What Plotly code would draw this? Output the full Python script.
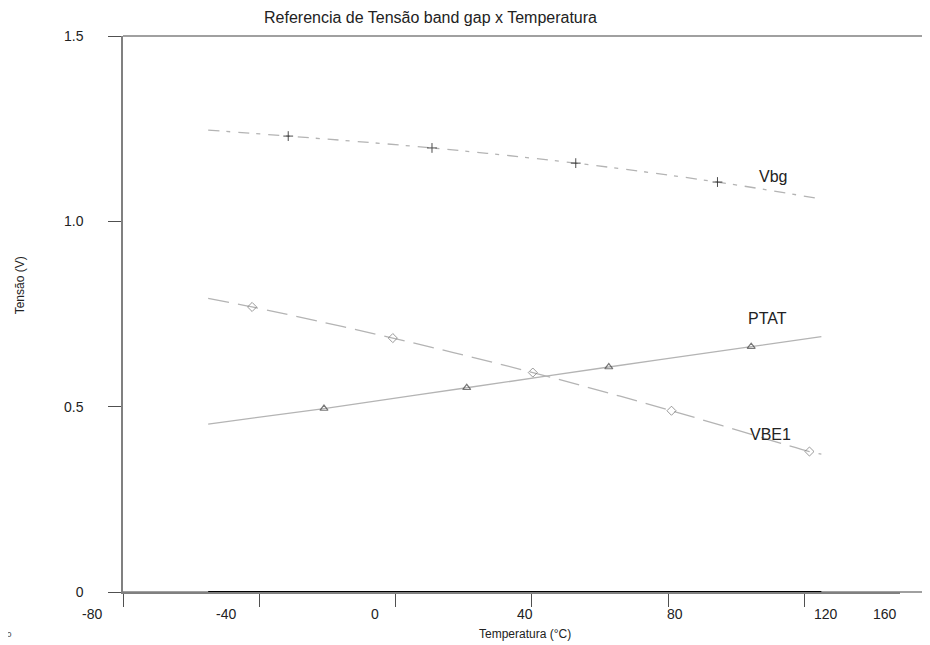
import plotly.graph_objects as go

# ---- data ----
vbg_temp = [-55, -31.5, 10.7, 52.9, 94.5, 125]
vbg_val = [1.246, 1.230, 1.198, 1.157, 1.106, 1.060]

ptat_temp = [-55, -21.0, 20.9, 62.6, 104.4, 125]
ptat_val = [0.453, 0.495, 0.551, 0.607, 0.662, 0.689]

vbe1_temp = [-55, -42.1, -0.8, 40.3, 81.0, 121.5, 125]
vbe1_val = [0.792, 0.769, 0.685, 0.592, 0.489, 0.379, 0.372]

base_temp = [-55, 125]
base_val = [0, 0]

x_tick_vals = [-80, -40, 0, 40, 80, 120, 160]
x_tick_text = ["-80", "-40", "0", "40", "80", "120", "160"]
y_tick_vals = [0, 0.5, 1.0, 1.5]
y_tick_text = ["0", "0.5", "1.0", "1.5"]

series_labels = ["Vbg", "PTAT", "VBE1"]
label_pos = [(110.8, 1.122), (109.1, 0.737), (110.0, 0.424)]

# page-pixel centres of the (offset) x tick labels in the reference
x_label_px = [92, 226, 375, 525, 675, 826, 885]

OFF = 8  # page body margin
W, H = 930 - OFF, 645 - OFF
ML, MT = 122.7 - OFF, 35.7 - OFF
MR = 30
MB = H - (592.3 - OFF)
PW = W - ML - MR
PH = H - MT - MB
Y0 = 592.3  # page y of the x axis

def px_x(px):
    return (px - OFF - ML) / PW

def px_y(py):
    return (Y0 - py) / PH

X_END = px_x(930)  # axis lines run to the right edge of the window

LINE = "#b4b4b4"
MARK = "#404040"
AXIS = "#808080"

def sizes(n, s):
    return [0] + [s] * (n - 2) + [0]

fig = go.Figure()

fig.add_trace(go.Scatter(
    x=base_temp, y=base_val, mode="lines",
    line=dict(color="#000000", width=2.2), showlegend=False, hoverinfo="skip"))

fig.add_trace(go.Scatter(
    x=vbg_temp, y=vbg_val, mode="lines+markers", name="Vbg",
    line=dict(color=LINE, width=1.3, dash="11px,7px,4px,8px", shape="spline"),
    marker=dict(symbol="cross-thin", size=sizes(len(vbg_temp), 7),
                line=dict(color="#000000", width=1)),
    showlegend=False))

fig.add_trace(go.Scatter(
    x=ptat_temp, y=ptat_val, mode="lines+markers", name="PTAT",
    line=dict(color=LINE, width=1.3, shape="spline"),
    marker=dict(symbol="triangle-up-open", size=sizes(len(ptat_temp), 7),
                color=MARK, line=dict(color=MARK, width=1.2)),
    showlegend=False))

fig.add_trace(go.Scatter(
    x=vbe1_temp, y=vbe1_val, mode="lines+markers", name="VBE1",
    line=dict(color=LINE, width=1.3, dash="21px,9px", shape="spline"),
    marker=dict(symbol="diamond-open", size=sizes(len(vbe1_temp), 7),
                color="#707070", line=dict(color="#707070", width=1)),
    showlegend=False))

annotations = []
for txt, (lx, ly) in zip(series_labels, label_pos):
    annotations.append(dict(x=lx, y=ly, xref="x", yref="y", text=txt,
                            showarrow=False, font=dict(size=16, color="#222222")))

for txt, px in zip(x_tick_text, x_label_px):
    annotations.append(dict(x=px_x(px), y=px_y(614),
                            xref="paper", yref="paper", text=txt,
                            showarrow=False, xanchor="center", yanchor="middle",
                            font=dict(size=14, color="#222222")))

NARROW = "Liberation Sans Narrow, Arial Narrow, Liberation Sans, Arial"
annotations.append(dict(x=px_x(525), y=px_y(634), xref="paper",
                        yref="paper", text="Temperatura (°C)", showarrow=False,
                        xanchor="center", yanchor="middle",
                        font=dict(size=12, color="#222222", family=NARROW)))
annotations.append(dict(x=px_x(20), y=px_y(285), xref="paper",
                        yref="paper", text="Tensão (V)", showarrow=False,
                        textangle=-90, xanchor="center", yanchor="middle",
                        font=dict(size=12, color="#222222", family=NARROW)))
annotations.append(dict(x=px_x(262), y=px_y(17), xref="paper",
                        yref="paper", text="Referencia de Tensão band gap x Temperatura",
                        showarrow=False, xanchor="left", yanchor="middle",
                        font=dict(size=16, color="#222222")))
annotations.append(dict(x=px_x(9), y=px_y(634), xref="paper",
                        yref="paper", text="ɔ", showarrow=False,
                        xanchor="center", yanchor="middle",
                        font=dict(size=9, color="#444444")))

fig.update_layout(
    width=W, height=H,
    margin=dict(l=ML, r=MR, t=MT, b=MB, pad=0),
    paper_bgcolor="white", plot_bgcolor="white",
    font=dict(family="Liberation Sans, Arial, sans-serif", color="#222222"),
    annotations=annotations,
    shapes=[
        dict(type="line", xref="paper", yref="paper", x0=0, x1=X_END, y0=1, y1=1,
             layer="below", line=dict(color=AXIS, width=1.5)),
        dict(type="line", xref="paper", yref="paper", x0=0, x1=X_END, y0=0, y1=0,
             layer="below", line=dict(color=AXIS, width=1.5)),
    ],
    xaxis=dict(range=[-80, -80 + PW / 3.408], tickvals=x_tick_vals,
               showticklabels=False, ticks="outside", ticklen=13, tickwidth=1,
               tickcolor="#505050", showline=True, linecolor=AXIS,
               linewidth=1.5, mirror=False, showgrid=False, zeroline=False,
               fixedrange=True),
    yaxis=dict(range=[0, 1.5], tickvals=y_tick_vals, ticktext=y_tick_text,
               ticks="outside", ticklen=13, tickwidth=1, tickcolor="#505050",
               showline=True, linecolor=AXIS, linewidth=1.5,
               showgrid=False, zeroline=False, ticklabelstandoff=22,
               tickfont=dict(size=14, color="#222222"), fixedrange=True),
)

fig.write_html("out.html")
